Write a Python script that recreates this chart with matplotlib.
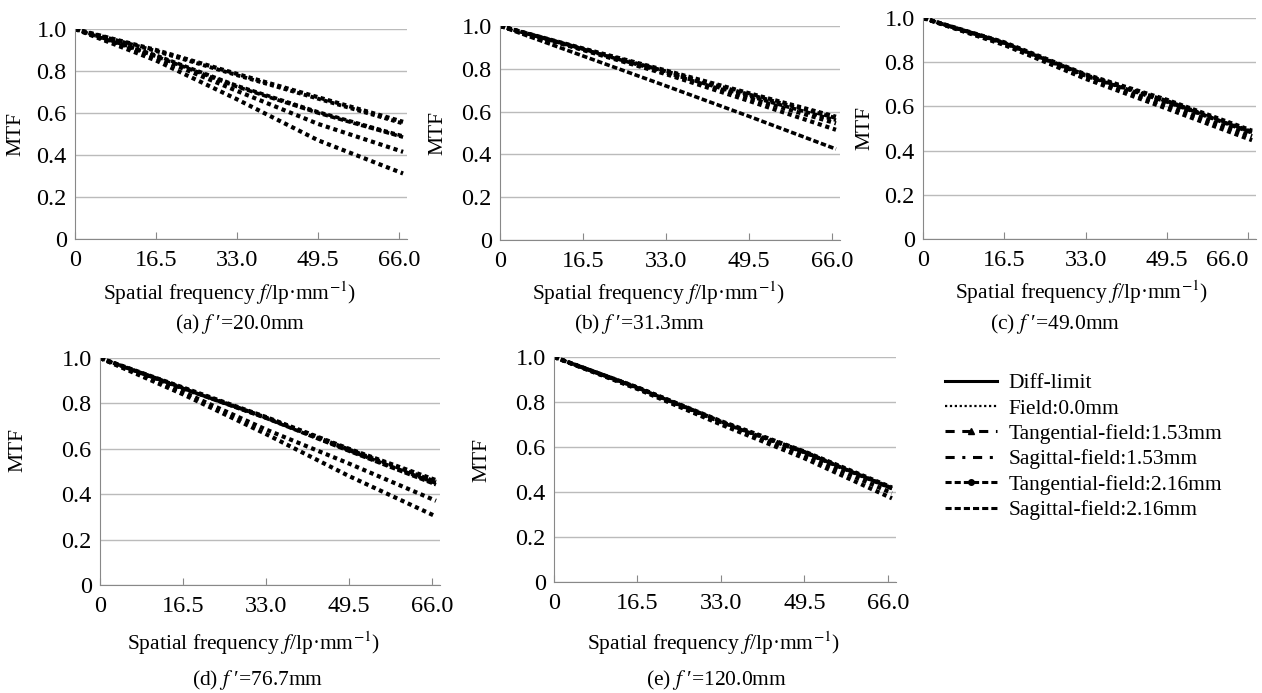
import matplotlib
matplotlib.use("Agg")
import matplotlib.pyplot as plt
from matplotlib.lines import Line2D

plt.rcParams["font.family"] = ["Liberation Serif", "DejaVu Serif"]
plt.rcParams["mathtext.fontset"] = "stix"

W, H = 1262, 693

# spatial frequency (lp/mm) at which values were read
freq = [0.0, 16.5, 33.0, 49.5, 66.8]

series_names = [
    "Diff-limit",
    "Field:0.0mm",
    "Tangential-field:1.53mm",
    "Sagittal-field:1.53mm",
    "Tangential-field:2.16mm",
    "Sagittal-field:2.16mm",
]

# MTF values per panel, one row per series (same order as series_names)
mtf_a = [
    [1.0, 0.900, 0.786, 0.675, 0.558],
    [1.0, 0.895, 0.780, 0.668, 0.550],
    [1.0, 0.870, 0.725, 0.600, 0.485],
    [1.0, 0.875, 0.730, 0.605, 0.490],
    [1.0, 0.865, 0.705, 0.548, 0.415],
    [1.0, 0.850, 0.665, 0.470, 0.312],
]
mtf_b = [
    [1.0, 0.895, 0.792, 0.686, 0.576],
    [1.0, 0.893, 0.788, 0.680, 0.570],
    [1.0, 0.860, 0.720, 0.578, 0.425],
    [1.0, 0.891, 0.782, 0.672, 0.560],
    [1.0, 0.888, 0.775, 0.650, 0.515],
    [1.0, 0.890, 0.780, 0.664, 0.545],
]
mtf_c = [
    [1.0, 0.890, 0.745, 0.630, 0.490],
    [1.0, 0.888, 0.742, 0.625, 0.485],
    [1.0, 0.885, 0.738, 0.620, 0.480],
    [1.0, 0.887, 0.740, 0.622, 0.483],
    [1.0, 0.882, 0.730, 0.605, 0.465],
    [1.0, 0.878, 0.725, 0.590, 0.447],
]
mtf_d = [
    [1.0, 0.870, 0.740, 0.600, 0.462],
    [1.0, 0.868, 0.738, 0.597, 0.455],
    [1.0, 0.865, 0.735, 0.590, 0.442],
    [1.0, 0.866, 0.736, 0.593, 0.448],
    [1.0, 0.850, 0.685, 0.535, 0.371],
    [1.0, 0.840, 0.665, 0.480, 0.302],
]
mtf_e = [
    [1.0, 0.865, 0.715, 0.580, 0.420],
    [1.0, 0.865, 0.713, 0.578, 0.417],
    [1.0, 0.862, 0.710, 0.575, 0.415],
    [1.0, 0.863, 0.712, 0.577, 0.416],
    [1.0, 0.860, 0.705, 0.565, 0.395],
    [1.0, 0.858, 0.700, 0.550, 0.372],
]

captions = ["(a) $f$ \u2032=20.0mm", "(b) $f$ \u2032=31.3mm", "(c) $f$ \u2032=49.0mm",
            "(d) $f$ \u2032=76.7mm", "(e) $f$ \u2032=120.0mm"]
xticks = [0, 16.5, 33.0, 49.5, 66.0]
xtick_labels = ["0", "16.5", "33.0", "49.5", "66.0"]
yticks = [0, 0.2, 0.4, 0.6, 0.8, 1.0]
ytick_labels = ["0", "0.2", "0.4", "0.6", "0.8", "1.0"]

# panel boxes in pixels: left, top, right, bottom
boxes = [
    (75, 29, 407, 239),
    (500, 26, 840, 240),
    (923, 18, 1256, 239),
    (100, 358, 440, 585),
    (554, 357, 896, 582),
]
# xlabel centre, caption centre, MTF label position (pixels)
xlabel_pos = [(230, 293), (659, 293), (1082, 292), (254, 643), (714, 643)]
caption_pos = [(240, 324), (640, 324), (1055, 324), (258, 680), (716, 680)]
ylabel_pos = [(16, 134), (438, 133), (865, 128), (18, 450), (482, 460)]

# how the (low-res) curves look: chains of square blobs
plot_styles = [
    dict(ls=(0, (1.0, 0.8)), lw=3.0),
    dict(ls=(0, (1.0, 0.8)), lw=2.8),
    dict(ls=(0, (1.5, 0.7)), lw=2.6),
    dict(ls=(0, (1.2, 0.8)), lw=2.6),
    dict(ls=(0, (1.0, 0.9)), lw=3.0),
    dict(ls=(0, (1.0, 0.9)), lw=3.0),
]

fig = plt.figure(figsize=(W / 100, H / 100), dpi=100)

for i, data in enumerate([mtf_a, mtf_b, mtf_c, mtf_d, mtf_e]):
    l, t, r, b = boxes[i]
    ax = fig.add_axes([l / W, 1 - b / H, (r - l) / W, (b - t) / H])
    for vals, st in zip(data, plot_styles):
        ax.plot(freq, vals, color="black", solid_capstyle="butt",
                dash_capstyle="butt", **st)
    ax.set_xlim(0, 67.6)
    ax.set_ylim(0, 1.0)
    ax.set_xticks(xticks)
    ax.set_xticklabels(xtick_labels)
    ax.set_yticks(yticks)
    ax.set_yticklabels(ytick_labels)
    ax.tick_params(axis="x", direction="in", length=5, color="#888888",
                   labelsize=17.5, pad=8)
    ax.tick_params(axis="y", length=0, labelsize=17.5, pad=6)
    ax.yaxis.grid(True, color="#bbbbbb", lw=1)
    ax.set_axisbelow(True)
    for s in ["top", "right"]:
        ax.spines[s].set_visible(False)
    for s in ["left", "bottom"]:
        ax.spines[s].set_color("#888888")
    ax.patch.set_alpha(0)
    if i == 2:
        ax.get_xticklabels()[-1].set_horizontalalignment("right")
        ax.get_xticklabels()[-1].set_x(67.6)

    x, y = xlabel_pos[i]
    fig.text(x / W, 1 - y / H, "Spatial frequency $f$/lp·mm$^{-1}$)",
             ha="center", va="center", fontsize=15.5)
    x, y = caption_pos[i]
    fig.text(x / W, 1 - y / H, captions[i], ha="center", va="center",
             fontsize=15.5)
    x, y = ylabel_pos[i]
    fig.text(x / W, 1 - y / H, "MTF", ha="center", va="center",
             rotation=90, fontsize=15.5)

legend_handles = [
    Line2D([], [], color="black", lw=2.2, ls="-"),
    Line2D([], [], color="black", lw=1.6, ls=(0, (1, 1.2))),
    Line2D([], [], color="black", lw=2.2, ls=(0, (3, 2.5)), marker="^", ms=4),
    Line2D([], [], color="black", lw=2.2, ls=(0, (3, 2.5, 1, 2.5))),
    Line2D([], [], color="black", lw=2.2, ls=(0, (2, 1)), marker="o", ms=4),
    Line2D([], [], color="black", lw=2.2, ls=(0, (2, 1))),
]
fig.legend(legend_handles, series_names, loc="upper left",
           bbox_to_anchor=(945 / W, 1 - 373 / H), frameon=False,
           fontsize=15.5, handlelength=2.4, handletextpad=0.55,
           labelspacing=0.25, borderpad=0, borderaxespad=0)

fig.savefig("out.png", dpi=100, facecolor="white")
